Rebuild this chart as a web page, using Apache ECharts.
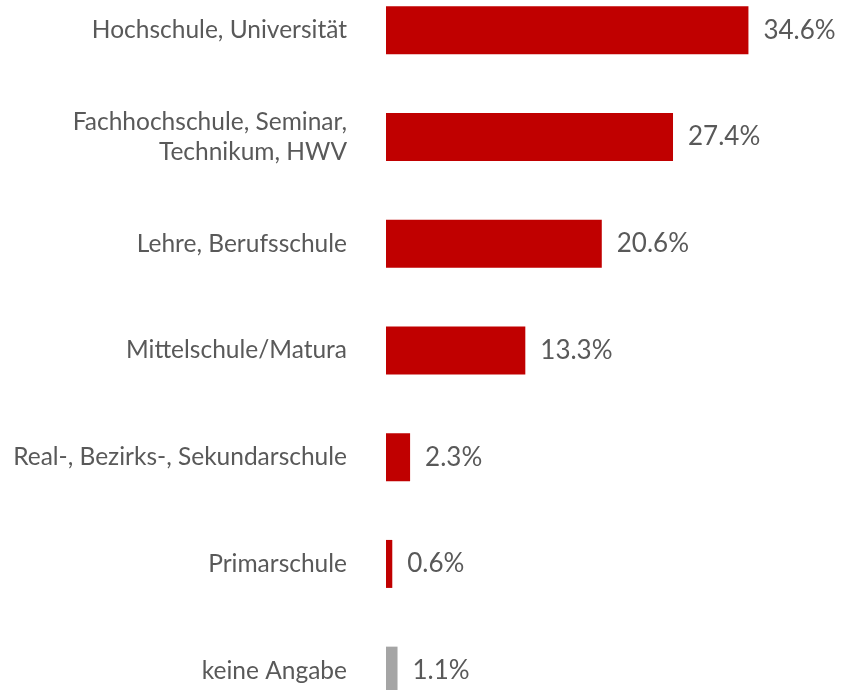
<!DOCTYPE html>
<html>
<head>
<meta charset="utf-8">
<script src="https://cdn.jsdelivr.net/npm/echarts@6/dist/echarts.min.js"></script>
<style>
  html, body { margin: 0; padding: 0; background: #fff; overflow: hidden; }
  /* the plot is cropped at top and bottom in the original, so the chart is taller than the window */
  #chart { width: 841px; height: 747px; margin-top: -23px; }
</style>
</head>
<body>
<div id="chart"></div>
<script>
var categories = [
  'Hochschule, Universität',
  'Fachhochschule, Seminar,\nTechnikum, HWV',
  'Lehre, Berufsschule',
  'Mittelschule/Matura',
  'Real-, Bezirks-, Sekundarschule',
  'Primarschule',
  'keine Angabe'
];
var values = [34.6, 27.4, 20.6, 13.3, 2.3, 0.6, 1.1];
var barColors = ['#C00000', '#C00000', '#C00000', '#C00000', '#C00000', '#C00000', '#A5A5A5'];

var chart = echarts.init(document.getElementById('chart'));
var fontFam = 'Lato, "Noto Sans", sans-serif';

chart.setOption({
  animation: false,
  grid: { left: 386, right: 36, top: 0, bottom: 0, containLabel: false },
  xAxis: {
    type: 'value',
    min: 0,
    max: 40,
    show: false
  },
  yAxis: {
    type: 'category',
    inverse: true,
    data: categories,
    axisLine: { show: false },
    axisTick: { show: false },
    axisLabel: {
      margin: 39,
      color: '#595959',
      fontSize: 24.5,
      fontFamily: fontFam,
      align: 'right',
      lineHeight: 30
    }
  },
  series: [{
    type: 'bar',
    barWidth: 48,
    data: values.map(function (v, i) {
      return { value: v, itemStyle: { color: barColors[i] } };
    }),
    label: {
      show: true,
      position: 'right',
      distance: 15,
      color: '#595959',
      fontSize: 26,
      fontFamily: fontFam,
      formatter: function (p) { return p.value.toFixed(1) + '%'; }
    }
  }]
});
</script>
</body>
</html>
